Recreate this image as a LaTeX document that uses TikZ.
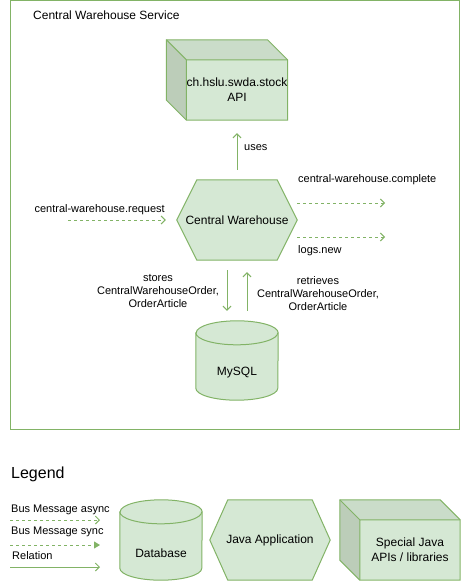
\documentclass[tikz,border=0pt]{standalone}
\usepackage{fontspec}
\setmainfont{Liberation Sans}
\usetikzlibrary{arrows.meta,calc,backgrounds}
\definecolor{boxfill}{HTML}{D5E8D4}
\definecolor{boxline}{HTML}{82B366}
\definecolor{boxtop}{HTML}{CADCC9}
\definecolor{boxside}{HTML}{BCCDB9}

\begin{document}
\begin{tikzpicture}[x=1pt,y=-1pt,
    every node/.style={inner sep=0pt,font=\fontsize{11}{13}\selectfont},
    big/.style={font=\fontsize{12}{15}\selectfont,align=center},
    greenbox/.style={draw=boxline,fill=boxfill,line width=1pt},
    rel/.style={draw=boxline,line width=1pt,-{Straight Barb[length=4pt,width=8pt]}},
    async/.style={rel,dash pattern=on 3pt off 3pt},
    sync/.style={draw=boxline,line width=1pt,dash pattern=on 3pt off 3pt,-{Triangle[length=6pt,width=7pt]}}]
  \useasboundingbox (0,0) rectangle (461,581);

  \node[anchor=west,big] (title) at (33,15) {Central Warehouse Service};

  % nodes
  \node[big,minimum width=100,minimum height=60] (api) at (237,90) {ch.hslu.swda.stock\\API};
  \node[big,minimum width=120,minimum height=80] (cw) at (237,220) {Central Warehouse};
  \node[minimum width=82,minimum height=79] (db) at (237,360.5) {};
  \node[big] (dbtext) at (237,373) {MySQL};

  \begin{scope}[on background layer]
    % service frame
    \draw[boxline,line width=1pt,fill=white] (10.5,0.5) rectangle (459.5,429.5);
    % api cube
    \fill[boxside] ($(api.north west)+(-20,-20)$) -- (api.north west) -- (api.south west)
      -- ($(api.south west)+(-20,-20)$) -- cycle;
    \fill[boxtop] ($(api.north west)+(-20,-20)$) -- ($(api.north east)+(-20,-20)$)
      -- (api.north east) -- (api.north west) -- cycle;
    \fill[boxfill] (api.north west) rectangle (api.south east);
    \draw[boxline,line width=1pt] ($(api.north west)+(-20,-20)$) -- ($(api.north east)+(-20,-20)$)
      -- (api.north east) -- (api.south east) -- (api.south west)
      -- ($(api.south west)+(-20,-20)$) -- cycle;
    \draw[boxline,line width=1pt] ($(api.north west)+(-20,-20)$) -- (api.north west)
      -- (api.north east) (api.north west) -- (api.south west);
    % hexagon
    \draw[greenbox] (cw.west) -- ($(cw.north west)+(20,0)$) -- ($(cw.north east)+(-20,0)$)
      -- (cw.east) -- ($(cw.south east)+(-20,0)$) -- ($(cw.south west)+(20,0)$) -- cycle;
    % database
    \draw[greenbox] ($(db.north west)+(0,12)$) -- ($(db.south west)+(0,-12)$)
      arc[start angle=180,end angle=360,x radius=41pt,y radius=12pt]
      -- ($(db.north east)+(0,12)$)
      arc[start angle=0,end angle=180,x radius=41pt,y radius=12pt] -- cycle;
    \draw[boxline,line width=1pt] ($(db.north west)+(0,12)$)
      arc[start angle=180,end angle=360,x radius=41pt,y radius=12pt];
  \end{scope}

  % connectors
  \coordinate (reqin) at (68,220);
  \coordinate (cmpout) at (385,203);
  \coordinate (logout) at (385,237);
  \draw[rel] ($(cw.north)+(0,-10)$) -- ($(api.south)+(0,13)$);
  \draw[async] (reqin) -- ($(cw.west)+(-11,0)$);
  \draw[async] ($(cw.east)+(0,-17)$) -- (cmpout);
  \draw[async] ($(cw.east)+(0,17)$) -- (logout);
  \draw[rel] ($(cw.south)+(-10,10)$) -- ($(db.north)+(-10,-10)$);
  \draw[rel] ($(db.north)+(10,-10)$) -- ($(cw.south)+(10,12)$);

  % labels
  \node[anchor=west] (useslbl) at (244,148) {uses};
  \node[anchor=east] (reqlbl) at (165,210) {central-warehouse.request};
  \node[anchor=west] (cmplbl) at (298,180) {central-warehouse.complete};
  \node[anchor=west] (loglbl) at (298,251) {logs.new};
  \node[align=center] (storelbl) at (158,291) {stores\\CentralWarehouseOrder,\\OrderArticle};
  \node[align=center] (retrlbl) at (318,294) {retrieves\\CentralWarehouseOrder,\\OrderArticle};

  % legend
  \node[anchor=west,font=\fontsize{16}{19}\selectfont] (legend) at (11,474) {Legend};
  \node[anchor=west] (asynclbl) at (11,510) {Bus Message async};
  \node[anchor=west] (synclbl) at (11,532) {Bus Message sync};
  \node[anchor=west] (rellbl) at (12,556) {Relation};
  \coordinate (asyncA) at (10,520);
  \coordinate (asyncB) at (100,520);
  \coordinate (syncA) at (10,545);
  \coordinate (syncB) at (100,545);
  \coordinate (relA) at (10,567);
  \coordinate (relB) at (100,567);
  \draw[async] (asyncA) -- (asyncB);
  \draw[sync] (syncA) -- (syncB);
  \draw[rel] (relA) -- (relB);

  \node[minimum width=82,minimum height=80] (dbkey) at (161,540) {};
  \node[big] (dbkeytext) at (161,553) {Database};
  \node[big,minimum width=120,minimum height=80] (appkey) at (270,540) {Java Application};
  \node[big,minimum width=100,minimum height=60] (libkey) at (410,550) {Special Java\\APIs / libraries};

  \begin{scope}[on background layer]
    \draw[greenbox] ($(dbkey.north west)+(0,12)$) -- ($(dbkey.south west)+(0,-12)$)
      arc[start angle=180,end angle=360,x radius=41pt,y radius=12pt]
      -- ($(dbkey.north east)+(0,12)$)
      arc[start angle=0,end angle=180,x radius=41pt,y radius=12pt] -- cycle;
    \draw[boxline,line width=1pt] ($(dbkey.north west)+(0,12)$)
      arc[start angle=180,end angle=360,x radius=41pt,y radius=12pt];
    \draw[greenbox] (appkey.west) -- ($(appkey.north west)+(18,0)$) -- ($(appkey.north east)+(-18,0)$)
      -- (appkey.east) -- ($(appkey.south east)+(-18,0)$) -- ($(appkey.south west)+(18,0)$) -- cycle;
    \fill[boxside] ($(libkey.north west)+(-20,-20)$) -- (libkey.north west) -- (libkey.south west)
      -- ($(libkey.south west)+(-20,-20)$) -- cycle;
    \fill[boxtop] ($(libkey.north west)+(-20,-20)$) -- ($(libkey.north east)+(-20,-20)$)
      -- (libkey.north east) -- (libkey.north west) -- cycle;
    \fill[boxfill] (libkey.north west) rectangle (libkey.south east);
    \draw[boxline,line width=1pt] ($(libkey.north west)+(-20,-20)$) -- ($(libkey.north east)+(-20,-20)$)
      -- (libkey.north east) -- (libkey.south east) -- (libkey.south west)
      -- ($(libkey.south west)+(-20,-20)$) -- cycle;
    \draw[boxline,line width=1pt] ($(libkey.north west)+(-20,-20)$) -- (libkey.north west)
      -- (libkey.north east) (libkey.north west) -- (libkey.south west);
  \end{scope}
\end{tikzpicture}
\end{document}
